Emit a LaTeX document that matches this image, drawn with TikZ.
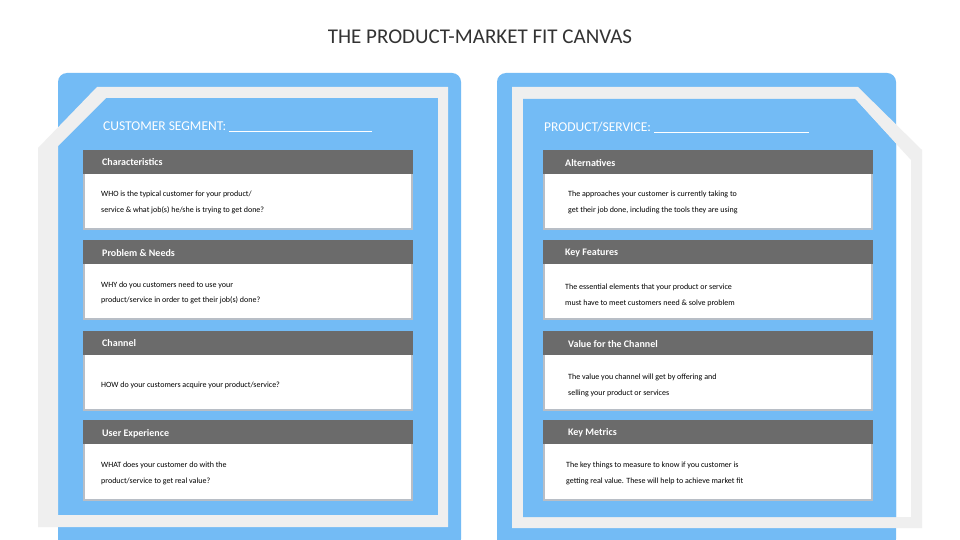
\documentclass[tikz,border=0pt]{standalone}
\usepackage{fontspec}
\setmainfont{Carlito}
\definecolor{pblue}{HTML}{73BBF5}
\definecolor{band}{HTML}{EFEFEF}
\definecolor{hdr}{HTML}{6B6B6B}
\definecolor{cbord}{HTML}{B8BEC6}
\definecolor{ttl}{HTML}{333333}
\begin{document}
\begin{tikzpicture}[x=1pt,y=-1pt,
  hdrbox/.style={fill=hdr,draw=none},
  bodybox/.style={fill=white,draw=cbord,line width=1.5pt},
  hdrtext/.style={anchor=west,text=white,font=\fontsize{10}{12}\selectfont\bfseries,inner sep=0},
  bodytext/.style={anchor=west,text=black,font=\fontsize{8}{10}\selectfont,inner sep=0},
  paneltitle/.style={anchor=west,text=white,font=\fontsize{13.5}{16}\selectfont,inner sep=0}]
\useasboundingbox (0,0) rectangle (960,540);
\fill[white] (0,0) rectangle (960,540);
\node[text=ttl,font=\fontsize{21}{24}\selectfont] (title) at (480,37) {THE PRODUCT-MARKET FIT CANVAS};
% left panel
\fill[pblue,rounded corners=9pt] (58,73) rectangle (461,548);
\fill[band,even odd rule] (97,87) -- (448,87) -- (448,527) -- (38,527) -- (38,148) -- cycle
  (106,98) -- (438,98) -- (438,515) -- (58,515) -- (58,146) -- cycle;
% right panel
\fill[pblue,rounded corners=9pt] (497,73) rectangle (896,548);
\fill[white] (0,540) rectangle (960,545);
\fill[band,even odd rule] (512,87) -- (858,87) -- (922,150) -- (922,528) -- (512,528) -- cycle
  (523,99) -- (855,99) -- (911,160) -- (911,517) -- (523,517) -- cycle;
\fill[pblue] (523,99) -- (855,99) -- (896,144) -- (896,517) -- (523,517) -- cycle;
\node[paneltitle] (lt) at (103,127) {CUSTOMER SEGMENT: \rule[-1pt]{143pt}{0.6pt}};
\node[paneltitle] (rt) at (544,127) {PRODUCT/SERVICE: \rule[-1pt]{155pt}{0.6pt}};
% left cards
\foreach \t/\b [count=\i] in {150/229,240/319,331/410,420/500}{
  \draw[bodybox] (84,\t+23) rectangle (412,\b);
  \fill[hdrbox] (83,\t) rectangle (413,\t+24);
}
\foreach \t/\b in {150/229,240/319,331/410,420/500}{
  \draw[bodybox] (544,\t+23) rectangle (872,\b);
  \fill[hdrbox] (543,\t) rectangle (873,\t+24);
}
\node[hdrtext] (h1) at (102,162) {Characteristics};
\node[hdrtext] (h2) at (102,253) {Problem \& Needs};
\node[hdrtext] (h3) at (102,343) {Channel};
\node[hdrtext] (h4) at (102,434) {User Experience};
\node[bodytext] (b1a) at (101,194) {WHO is the typical customer for your product/};
\node[bodytext] (b1b) at (101,210) {service \& what job(s) he/she is trying to get done?};
\node[bodytext] (b2a) at (101,285) {WHY do you customers need to use your};
\node[bodytext] (b2b) at (101,300) {product/service in order to get their job(s) done?};
\node[bodytext] (b3a) at (101,385) {HOW do your customers acquire your product/service?};
\node[bodytext] (b4a) at (101,465) {WHAT does your customer do with the};
\node[bodytext] (b4b) at (101,481) {product/service to get real value?};
\node[hdrtext] (h5) at (565,163) {Alternatives};
\node[hdrtext] (h6) at (565,253) {Key Features};
\node[hdrtext] (h7) at (568,344) {Value for the Channel};
\node[hdrtext] (h8) at (568,433) {Key Metrics};
\node[bodytext] (b5a) at (568,194) {The approaches your customer is currently taking to};
\node[bodytext] (b5b) at (568,210) {get their job done, including the tools they are using};
\node[bodytext] (b6a) at (565,287) {The essential elements that your product or service};
\node[bodytext] (b6b) at (565,303) {must have to meet customers need \& solve problem};
\node[bodytext] (b7a) at (568,377) {The value you channel will get by offering and};
\node[bodytext] (b7b) at (568,393) {selling your product or services};
\node[bodytext] (b8a) at (566,465) {The key things to measure to know if you customer is};
\node[bodytext] (b8b) at (566,481) {getting real value. These will help to achieve market fit};
\end{tikzpicture}
\end{document}
